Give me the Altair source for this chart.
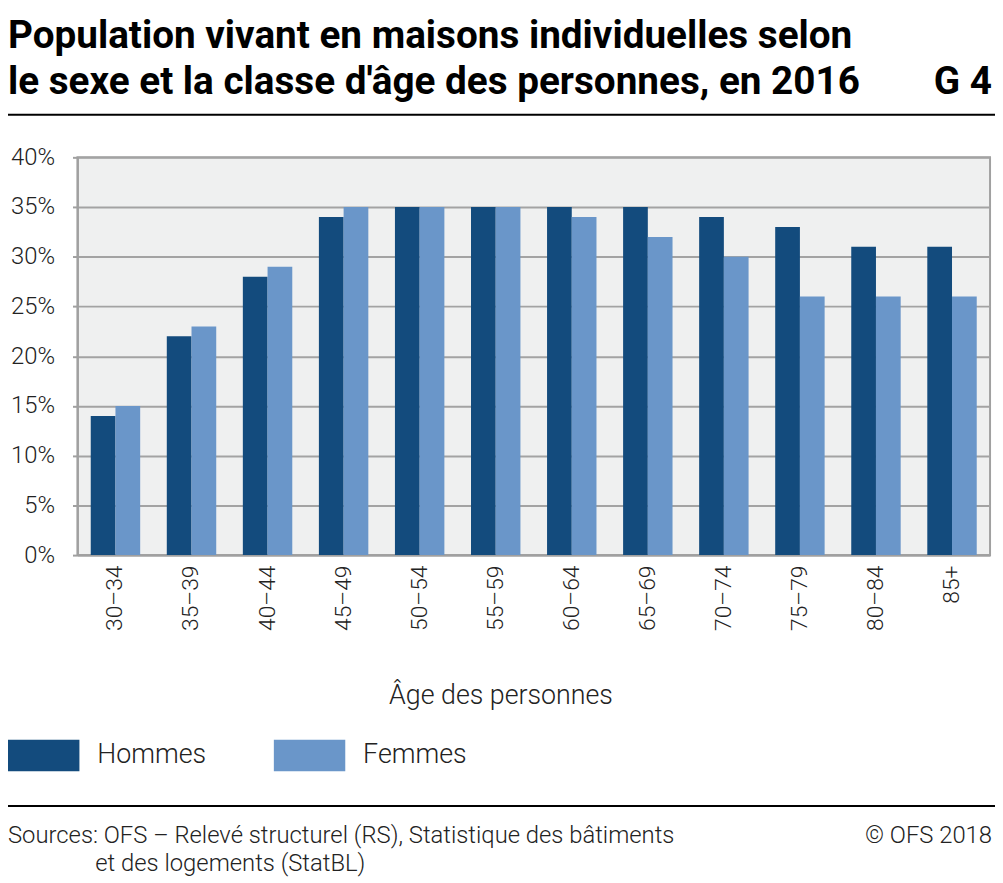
import altair as alt
import pandas as pd

ages = ["30–34", "35–39", "40–44", "45–49", "50–54", "55–59",
        "60–64", "65–69", "70–74", "75–79", "80–84", "85+"]
hommes = [14, 22, 28, 34, 35, 35, 35, 35, 34, 33, 31, 31]
femmes = [15, 23, 29, 35, 35, 35, 34, 32, 30, 26, 26, 26]
series = ["Hommes", "Femmes"]
colors = ["#134b7d", "#6a96c9"]
y_ticks = [0, 5, 10, 15, 20, 25, 30, 35, 40]

title_lines = ["Population vivant en maisons individuelles selon",
               "le sexe et la classe d'âge des personnes, en 2016"]
graph_no = "G 4"
x_title = "Âge des personnes"
source_lines = ["Sources: OFS – Relevé structurel (RS), Statistique des bâtiments",
                "et des logements (StatBL)"]
copyright_txt = "© OFS 2018"

rows = []
for a, h, f in zip(ages, hommes, femmes):
    rows.append({"age": a, "sexe": series[0], "val": h / 100})
    rows.append({"age": a, "sexe": series[1], "val": f / 100})
df = pd.DataFrame(rows)

LABEL_FONT = "Roboto"
TITLE_FONT = "Roboto"
W, H = 920, 401

bars = alt.Chart(df).mark_bar().encode(
    x=alt.X("age:N", sort=ages,
            scale=alt.Scale(paddingInner=0.35, paddingOuter=0.175),
            axis=alt.Axis(title=None, labelAngle=270, labelFontSize=23,
                          labelFont=LABEL_FONT, labelFontWeight=300,
                          labelColor="#222", labelPadding=10, ticks=False,
                          domainColor="#a0a0a0", domainWidth=2)),
    xOffset=alt.XOffset("sexe:N", sort=series,
                        scale=alt.Scale(paddingInner=0, paddingOuter=0)),
    y=alt.Y("val:Q", scale=alt.Scale(domain=[0, 0.4], nice=False),
            axis=alt.Axis(values=[t / 100 for t in y_ticks], format=".0%",
                          title=None, labelFontSize=24, labelFont=LABEL_FONT,
                          labelFontWeight=300, labelColor="#222",
                          labelPadding=18, tickSize=5, tickColor="#a0a0a0",
                          tickWidth=2, gridColor="#a3a3a3", gridWidth=2,
                          domainColor="#a0a0a0", domainWidth=2)),
    color=alt.Color("sexe:N", sort=series,
                    scale=alt.Scale(domain=series, range=colors),
                    legend=alt.Legend(
                        title=None, orient="none", legendX=-70, legendY=567,
                        direction="horizontal",
                        symbolType="M-1,-0.444H1V0.444H-1Z",
                        symbolSize=5184, symbolStrokeWidth=0,
                        symbolOpacity=1, labelFontSize=27,
                        labelFont=LABEL_FONT, labelFontWeight=300,
                        labelColor="#222", labelOffset=18,
                        columnPadding=68)),
)


def txt(text, x, y, size, weight=300, align="left", font=LABEL_FONT,
        color="#222", line_height=None):
    kw = {}
    if line_height is not None:
        kw["lineHeight"] = line_height
    return alt.Chart(pd.DataFrame({"t": [0]})).mark_text(
        text=text, align=align, baseline="alphabetic", fontSize=size,
        fontWeight=weight, font=font, color=color, **kw
    ).encode(x=alt.value(x), y=alt.value(y))


def hrule(y):
    return alt.Chart(pd.DataFrame({"a": [0]})).mark_rule(
        color="#000", strokeWidth=2
    ).encode(x=alt.value(-70), x2=alt.value(925), y=alt.value(y))


layers = [
    bars,
    txt(title_lines, -70, -110, 39, "bold", font=TITLE_FONT, color="#000",
        line_height=46),
    txt(graph_no, 922, -64, 39, "bold", align="right", font=TITLE_FONT,
        color="#000"),
    hrule(-43),
    txt(x_title, 427, 551, 27, align="center"),
    hrule(654),
    txt(source_lines[0], -70, 691, 24),
    txt(source_lines[1], 18, 719, 24),
    txt(copyright_txt, 922, 691, 24, align="right"),
]

chart = alt.layer(*layers).properties(
    width=W, height=H,
    autosize=alt.AutoSizeParams(type="none"),
    padding={"left": 70, "right": 5, "top": 147, "bottom": 327},
).configure_view(fill="#eff0f0", stroke="#a0a0a0", strokeWidth=2)

chart.save("out.html", embed_options={"renderer": "svg", "actions": False})
